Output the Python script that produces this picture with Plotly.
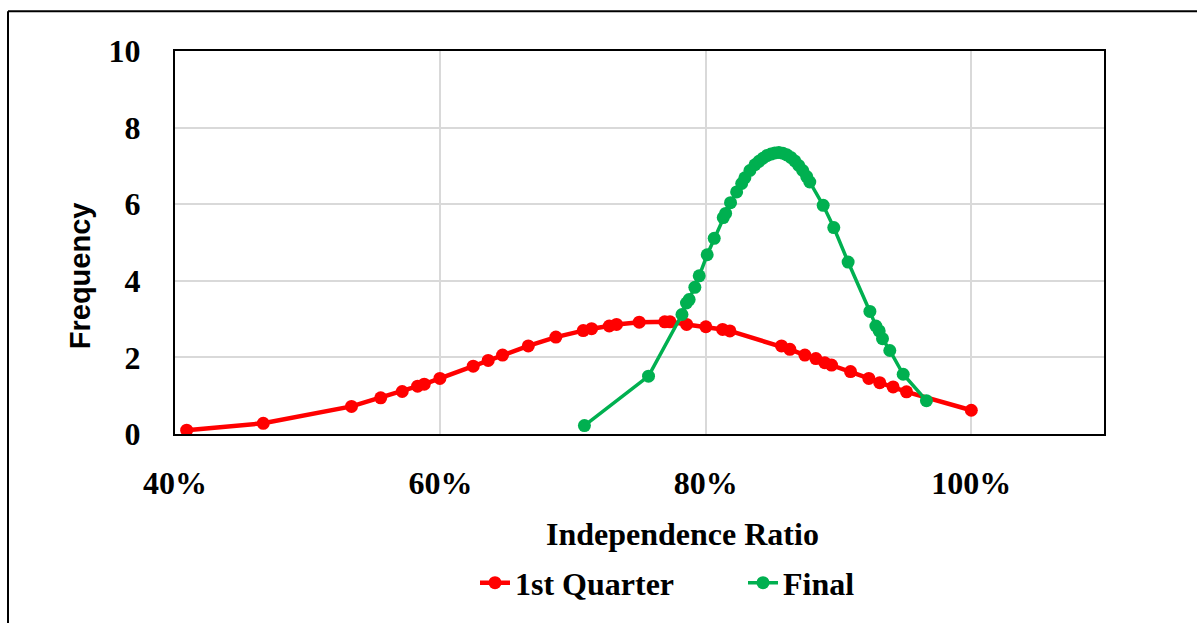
import plotly.graph_objects as go

# 1st Quarter series (independence ratio, frequency)
q1_x = [0.4088, 0.4665, 0.5330, 0.5550, 0.5712, 0.5828, 0.5878, 0.5996, 0.6247, 0.6360,
        0.6468, 0.6662, 0.6870, 0.7076, 0.7139, 0.7272, 0.7327, 0.7498, 0.7690, 0.7730,
        0.7855, 0.8000, 0.8126, 0.8181, 0.8570, 0.8633, 0.8746, 0.8829, 0.8896, 0.8947,
        0.9090, 0.9228, 0.9310, 0.9411, 0.9512, 1.0000]
q1_y = [0.10, 0.28, 0.72, 0.945, 1.11, 1.25, 1.30, 1.45, 1.77, 1.92,
        2.06, 2.30, 2.53, 2.70, 2.75, 2.82, 2.86, 2.92, 2.93, 2.93,
        2.86, 2.80, 2.73, 2.69, 2.30, 2.21, 2.06, 1.97, 1.86, 1.80,
        1.63, 1.45, 1.34, 1.23, 1.10, 0.62]

# Final series
fin_x = [0.7085, 0.7568, 0.7820, 0.7854, 0.7874, 0.7917, 0.7950, 0.8010, 0.8063, 0.8131,
         0.8149, 0.8186, 0.8232, 0.8270, 0.8294, 0.8332, 0.8370, 0.8400, 0.8430, 0.8460,
         0.8490, 0.8520, 0.8550, 0.8580, 0.8610, 0.8640, 0.8670, 0.8700, 0.8730, 0.8760,
         0.8783, 0.8884, 0.8964, 0.9072, 0.9236, 0.9281, 0.9306, 0.9331, 0.9386, 0.9487,
         0.9662]
fin_y = [0.22, 1.51, 3.12, 3.42, 3.51, 3.83, 4.13, 4.68, 5.11, 5.65,
         5.76, 6.04, 6.32, 6.54, 6.69, 6.88, 7.03, 7.12, 7.20, 7.27,
         7.31, 7.34, 7.35, 7.33, 7.29, 7.22, 7.13, 7.01, 6.88, 6.72,
         6.58, 5.97, 5.39, 4.49, 3.20, 2.82, 2.69, 2.49, 2.18, 1.56,
         0.87]

x_ticks = [0.4, 0.6, 0.8, 1.0]
x_tick_text = ["40%", "60%", "80%", "100%"]
y_ticks = [0, 2, 4, 6, 8, 10]

SERIF = "Liberation Serif, Times New Roman, serif"
SANS = "Liberation Sans, Arial, sans-serif"

fig = go.Figure()
fig.add_trace(go.Scatter(x=q1_x, y=q1_y, mode="lines+markers", name="1st Quarter",
                         line=dict(color="#ff0000", width=4.5),
                         marker=dict(color="#ff0000", size=13)))
fig.add_trace(go.Scatter(x=fin_x, y=fin_y, mode="lines+markers", name="Final",
                         line=dict(color="#00b050", width=3.5),
                         marker=dict(color="#00b050", size=13)))

L, R, T, B = 175, 93, 51, 186
W, H = 1197, 623
pw, ph = W - L - R, H - T - B

def px(xp):
    return (xp - L) / pw

def py(yp):
    return (H - B - yp) / ph

fig.update_layout(
    width=W, height=H,
    margin=dict(l=L, r=R, t=T, b=B),
    paper_bgcolor="white", plot_bgcolor="white",
    font=dict(family=SERIF, size=32, color="black"),
    showlegend=True,
    legend=dict(orientation="h", x=px(475), y=py(587), xanchor="left", yanchor="middle",
                font=dict(family=SERIF, size=32, color="black", weight="bold"),
                entrywidth=223, entrywidthmode="pixels", tracegroupgap=0),
    xaxis=dict(range=[0.4, 1.1], tickvals=x_ticks, ticktext=x_tick_text,
               showgrid=True, gridcolor="#d9d9d9", gridwidth=2,
               showline=True, linecolor="black", linewidth=2, mirror=True,
               ticks="", ticklabelstandoff=20,
               tickfont=dict(family=SERIF, size=32, color="black", weight="bold"),
               zeroline=False),
    yaxis=dict(range=[0, 10], tickvals=y_ticks,
               showgrid=True, gridcolor="#d9d9d9", gridwidth=2,
               showline=True, linecolor="black", linewidth=2, mirror=True,
               ticks="", ticklabelstandoff=26,
               tickfont=dict(family=SERIF, size=32, color="black", weight="bold"),
               zeroline=False),
    annotations=[
        dict(text="<b>Independence Ratio</b>", xref="paper", yref="paper",
             x=px(682), y=py(538), xanchor="center", yanchor="middle", showarrow=False,
             font=dict(family=SERIF, size=32, color="black")),
        dict(text="<b>Frequency</b>", xref="paper", yref="paper",
             x=px(80), y=py(278), xanchor="center", yanchor="middle", showarrow=False,
             textangle=-90, font=dict(family=SANS, size=29, color="black")),
    ],
    shapes=[
        dict(type="line", xref="paper", yref="paper", x0=px(8), x1=px(1200), y0=py(11), y1=py(11),
             line=dict(color="black", width=2)),
        dict(type="line", xref="paper", yref="paper", x0=px(8), x1=px(8), y0=py(11), y1=py(630),
             line=dict(color="black", width=2)),
    ],
)

fig.write_html("out.html")
